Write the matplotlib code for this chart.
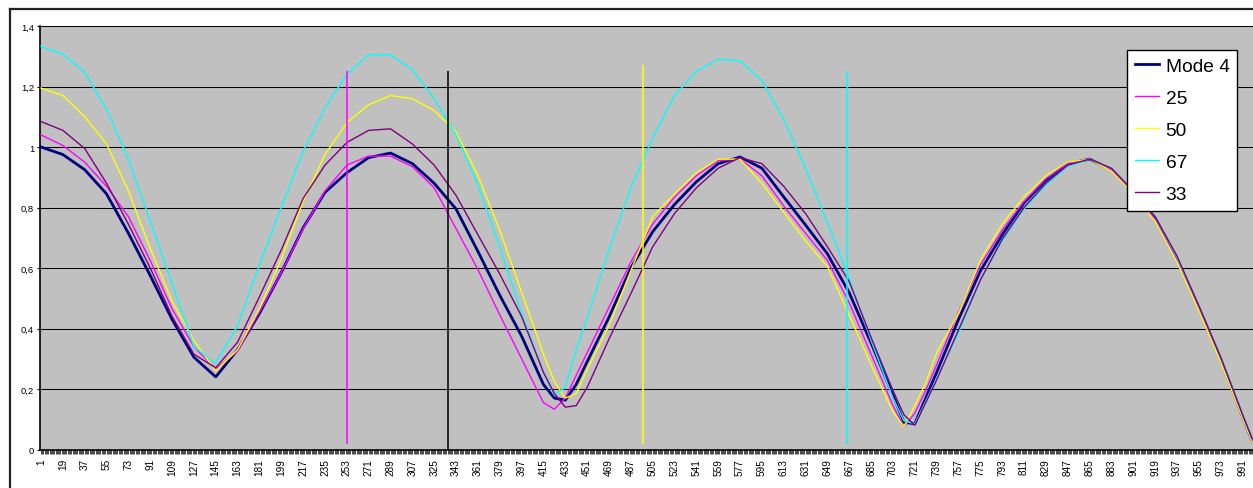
import matplotlib
matplotlib.use("Agg")
import matplotlib.pyplot as plt
from matplotlib.lines import Line2D
from matplotlib.ticker import FixedLocator, MultipleLocator, FuncFormatter

plt.rcParams['font.family'] = ['Liberation Sans', 'DejaVu Sans']

# sample positions along the 1000 categories
sample_x = [1, 19, 37, 55, 73, 91, 109, 127, 145, 163, 181, 199, 217, 235, 253,
            271, 289, 307, 325, 343, 361, 379, 397, 415, 424, 433, 442, 451, 469,
            487, 505, 523, 541, 559, 577, 595, 613, 631, 649, 667, 685, 703, 712,
            721, 730, 739, 757, 775, 793, 811, 829, 847, 865, 883, 901, 919, 937,
            955, 973, 991, 999]

mode4 = [1.00, 0.975, 0.925, 0.845, 0.715, 0.575, 0.43, 0.305, 0.24, 0.33, 0.45,
         0.585, 0.733, 0.85, 0.915, 0.965, 0.98, 0.945, 0.88, 0.795, 0.655, 0.51,
         0.375, 0.215, 0.17, 0.163, 0.215, 0.29, 0.437, 0.60, 0.72, 0.81, 0.885,
         0.945, 0.967, 0.93, 0.835, 0.742, 0.647, 0.518, 0.352, 0.18, 0.09, 0.085,
         0.17, 0.255, 0.43, 0.59, 0.71, 0.815, 0.89, 0.945, 0.96, 0.925, 0.85,
         0.765, 0.63, 0.47, 0.30, 0.11, 0.029]

s25 = [1.04, 1.005, 0.95, 0.87, 0.77, 0.625, 0.465, 0.34, 0.266, 0.325, 0.455,
       0.585, 0.73, 0.855, 0.94, 0.97, 0.97, 0.935, 0.865, 0.73, 0.595, 0.445,
       0.30, 0.155, 0.133, 0.17, 0.245, 0.32, 0.47, 0.62, 0.745, 0.835, 0.905,
       0.955, 0.96, 0.905, 0.805, 0.715, 0.625, 0.485, 0.315, 0.145, 0.075, 0.12,
       0.195, 0.28, 0.455, 0.61, 0.725, 0.82, 0.895, 0.945, 0.96, 0.925, 0.85,
       0.76, 0.625, 0.465, 0.295, 0.105, 0.025]

s50 = [1.195, 1.17, 1.10, 1.01, 0.855, 0.665, 0.49, 0.36, 0.26, 0.33, 0.465,
       0.63, 0.82, 0.975, 1.08, 1.14, 1.17, 1.16, 1.12, 1.05, 0.905, 0.725,
       0.52, 0.315, 0.225, 0.17, 0.185, 0.265, 0.41, 0.59, 0.77, 0.845, 0.915,
       0.96, 0.96, 0.88, 0.785, 0.69, 0.605, 0.445, 0.28, 0.125, 0.075, 0.145,
       0.22, 0.32, 0.45, 0.625, 0.745, 0.835, 0.905, 0.95, 0.96, 0.92, 0.845,
       0.755, 0.62, 0.46, 0.29, 0.105, 0.025]

s67 = [1.333, 1.307, 1.247, 1.125, 0.96, 0.755, 0.55, 0.34, 0.285, 0.41, 0.61,
       0.80, 0.985, 1.13, 1.24, 1.305, 1.305, 1.255, 1.16, 1.04, 0.875, 0.67,
       0.45, 0.255, 0.18, 0.205, 0.33, 0.435, 0.66, 0.865, 1.03, 1.17, 1.25,
       1.29, 1.285, 1.22, 1.09, 0.93, 0.75, 0.565, 0.36, 0.17, 0.095, 0.085,
       0.16, 0.235, 0.385, 0.56, 0.69, 0.795, 0.875, 0.935, 0.96, 0.93, 0.855,
       0.77, 0.635, 0.475, 0.305, 0.115, 0.033]

s33 = [1.084, 1.055, 0.995, 0.88, 0.745, 0.60, 0.44, 0.315, 0.27, 0.355, 0.505,
       0.66, 0.83, 0.94, 1.015, 1.055, 1.06, 1.01, 0.94, 0.84, 0.71, 0.58,
       0.44, 0.255, 0.185, 0.14, 0.145, 0.205, 0.365, 0.515, 0.67, 0.78, 0.865,
       0.93, 0.965, 0.945, 0.87, 0.78, 0.67, 0.555, 0.37, 0.195, 0.115, 0.08,
       0.155, 0.23, 0.395, 0.56, 0.695, 0.80, 0.88, 0.94, 0.96, 0.93, 0.855,
       0.77, 0.64, 0.475, 0.305, 0.115, 0.035]

# vertical marker lines
marker_x = [253, 336, 497, 665]
marker_top = [1.25, 1.25, 1.27, 1.25]
marker_bottom = [0.018, 0.0, 0.018, 0.018]
marker_colors = ['#FF00FF', '#000000', '#FFFF00', '#00FFFF']

xtick_labels = list(range(1, 1000, 18))
ytick_values = [0, 0.2, 0.4, 0.6, 0.8, 1.0, 1.2, 1.4]

fig = plt.figure(figsize=(12.53, 4.89), dpi=100)
ax = fig.add_axes([40.4 / 1253, 38.5 / 489, 1213.6 / 1253, 423.5 / 489])
ax.set_facecolor('#C0C0C0')

for v in ytick_values[1:]:
    ax.axhline(v, color='#000000', lw=0.75, zorder=1)

ax.plot(sample_x, mode4, color='#000080', lw=2.0, label='Mode 4', zorder=3)
ax.plot(sample_x, s25, color='#FF00FF', lw=1.0, label='25', zorder=3)
ax.plot(sample_x, s50, color='#FFFF00', lw=1.0, label='50', zorder=3)
ax.plot(sample_x, s67, color='#00FFFF', lw=1.0, label='67', zorder=3)
ax.plot(sample_x, s33, color='#800080', lw=1.0, label='33', zorder=3)

ax.vlines(marker_x, marker_bottom, marker_top, colors=marker_colors, lw=1.1, zorder=4)

ax.set_xlim(0.5, 1000.5)
ax.set_ylim(0, 1.4)

ax.xaxis.set_major_locator(FixedLocator(xtick_labels))
ax.xaxis.set_minor_locator(MultipleLocator(1))
ax.set_xticklabels([str(v) for v in xtick_labels], rotation=90, fontsize=7.2)
ax.tick_params(axis='x', which='both', length=3, width=0.5, direction='out', pad=3.2)

ax.yaxis.set_major_locator(FixedLocator(ytick_values))
ax.yaxis.set_major_formatter(FuncFormatter(lambda v, p: ('%g' % round(v, 1)).replace('.', ',')))
ax.tick_params(axis='y', which='major', length=2.5, width=0.8, labelsize=6.8, pad=2)

for side in ['top', 'right']:
    ax.spines[side].set_visible(False)
ax.spines['left'].set_linewidth(1.2)
ax.spines['bottom'].set_linewidth(1.2)

leg = ax.legend(loc='upper left', bbox_to_anchor=(1127 / 1253, 1 - 51 / 489),
                bbox_transform=fig.transFigure, borderaxespad=0, fontsize=13.8,
                frameon=True, fancybox=False, framealpha=1, edgecolor='#000000',
                borderpad=0.4, handlelength=1.25, handletextpad=0.36,
                labelspacing=0.76)
leg.get_frame().set_linewidth(1.0)
leg.set_zorder(10)

# outer chart border (left and top visible)
fig.add_artist(Line2D([10 / 1253, 10 / 1253], [0, 1 - 10 / 489], color='#222222',
                      lw=1.6, transform=fig.transFigure))
fig.add_artist(Line2D([10 / 1253, 1], [1 - 10 / 489, 1 - 10 / 489], color='#222222',
                      lw=1.6, transform=fig.transFigure))

fig.savefig('out.png', dpi=100)
